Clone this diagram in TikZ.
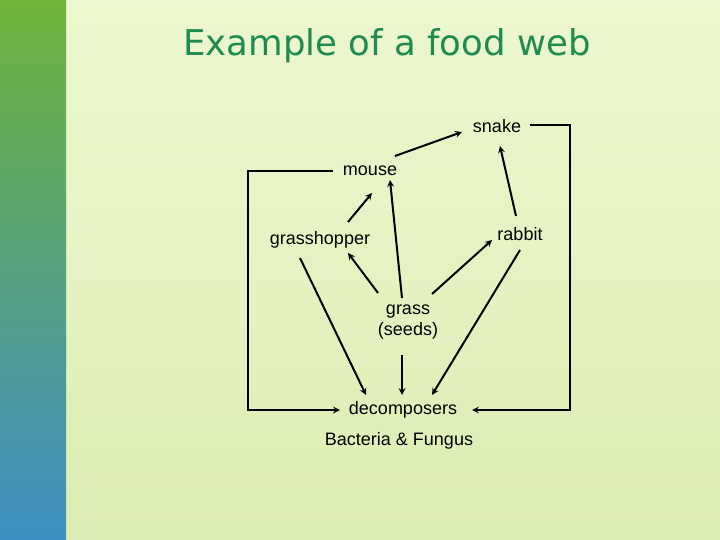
\documentclass[tikz,border=0pt]{standalone}
\usepackage{fontspec}
\setmainfont{Liberation Sans}
\newfontfamily\titlefont{DejaVu Sans}
\usetikzlibrary{positioning, calc}
\definecolor{slidegreen}{HTML}{DDEEB4}
\definecolor{slidelight}{HTML}{EDF7CF}
\definecolor{titlegreen}{HTML}{1E8C4E}
\definecolor{leafgreen}{HTML}{6FB33A}
\definecolor{leafmid}{HTML}{5FA88A}
\definecolor{waterblue}{HTML}{3E8FC4}
\tikzstyle{species}=[font=\fontsize{18}{21.5}\selectfont, align=center, inner sep=1pt]
\tikzstyle{arrow}=[->, >=stealth, line width=2pt]
\tikzstyle{link}=[line width=2pt]
\begin{document}
\begin{tikzpicture}[x=1pt, y=-1pt]
      \useasboundingbox (0,0) rectangle (720,540);
      % background
      \shade [top color=slidelight, bottom color=slidegreen] (0,0) rectangle (720,540);
      \shade [top color=leafgreen, middle color=leafmid, bottom color=waterblue] (0,0) rectangle (66,540);
      \node [font=\titlefont\fontsize{35.5}{40}\selectfont, text=titlegreen] (title) at (387,46) {Example of a food web};

      \node [species] (snake) at (497,126) {snake};
      \node [species] (mouse) at (370,171) {mouse};
      \node [species] (hopper) at (320,240) {grasshopper};
      \node [species] (rabbit) at (520,234) {rabbit};
      \node [species] (grass) at (408,322) {grass\\(seeds)};
      \node [species] (decomp) at (403,410) {decomposers};
      \node [species] (microbes) at (399,441) {Bacteria \& Fungus};

      \draw [arrow] ($(mouse)+(25,-15)$) -- ($(snake)+(-35,6)$);
      \draw [arrow] ($(hopper)+(28,-18)$) -- ($(mouse)+(2,22)$) ;
      \draw [arrow] ($(grass)+(-6,-24)$) -- ($(mouse)+(20,9)$);
      \draw [arrow] ($(grass)+(-30,-29)$) -- ($(hopper)+(28,13)$);
      \draw [arrow] ($(grass)+(24,-28)$) -- ($(rabbit)+(-28,6)$);
      \draw [arrow] ($(rabbit)+(-4,-18)$) -- ($(snake)+(3,20)$);
      \draw [arrow] ($(hopper)+(-20,18)$) -- ($(decomp)+(-37,-15)$);
      \draw [arrow] ($(grass)+(-6,33)$) -- ($(decomp)+(-1,-15)$);
      \draw [arrow] ($(rabbit)+(0,16)$) -- ($(decomp)+(29,-15)$);
      \draw [link, ->, >=stealth] ($(snake)+(33,-1)$) -| (570,410) -- ($(decomp)+(69,0)$);
      \draw [link, ->, >=stealth] ($(mouse)+(-37,0)$) -| (248,410) -- ($(decomp)+(-63,0)$);
    \end{tikzpicture}
\end{document}
